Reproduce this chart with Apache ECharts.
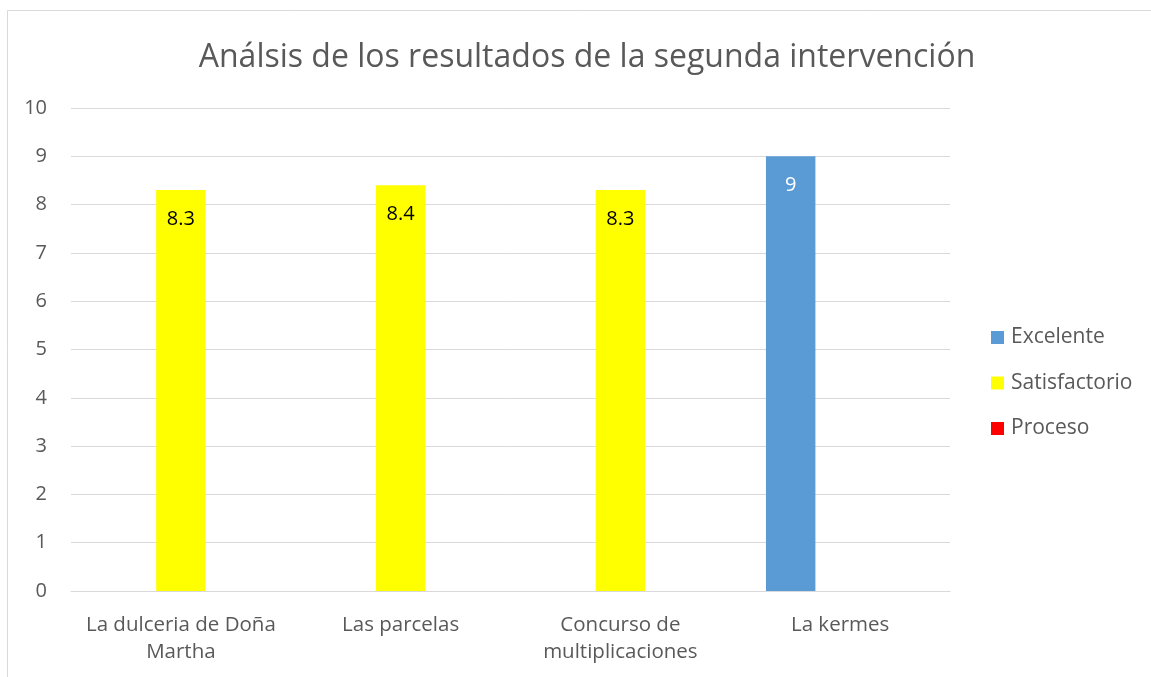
<!DOCTYPE html>
<html>
<head>
<meta charset="utf-8">
<script src="https://cdn.jsdelivr.net/npm/echarts@6/dist/echarts.min.js"></script>
<style>
  html, body { margin: 0; padding: 0; background: #fff; }
  #chart { width: 1151px; height: 677px; }
</style>
</head>
<body>
<div id="chart"></div>
<script>
const categories = ['La dulceria de Doña\nMartha', 'Las parcelas', 'Concurso de\nmultiplicaciones', 'La kermes']
const excelente = [null, null, null, 9]
const satisfactorio = [8.3, 8.4, 8.3, null]
const proceso = [null, null, null, null]
const yTicks = { min: 0, max: 10, interval: 1 }

const font = '"Open Sans", "Liberation Sans", sans-serif'
const grey = '#595959'

const chart = echarts.init(document.getElementById('chart'))

function barSeries(name, data, color, labelColor) {
  return {
    name,
    type: 'bar',
    data,
    barWidth: '22.5%',
    barGap: '0%',
    itemStyle: { color },
    label: {
      show: true,
      position: 'insideTop',
      distance: 19,
      color: labelColor,
      fontFamily: font,
      fontSize: 20
    }
  }
}

chart.setOption({
  animation: false,
  backgroundColor: '#fff',
  graphic: [{
    type: 'rect',
    shape: { x: 7.5, y: 10.5, width: 1160, height: 700 },
    style: { fill: 'none', stroke: '#d9d9d9', lineWidth: 1 },
    silent: true
  }],
  title: {
    text: 'Análsis de los resultados de la segunda intervención',
    left: 582,
    textAlign: 'center',
    top: 37,
    textStyle: { fontFamily: font, fontSize: 32, fontWeight: 'normal', color: grey }
  },
  legend: {
    orient: 'vertical',
    left: 986,
    top: 322,
    itemWidth: 13,
    itemHeight: 13,
    itemGap: 24.5,
    icon: 'rect',
    textStyle: { fontFamily: font, fontSize: 21, color: grey, padding: [0, 0, 0, 2] },
    data: ['Excelente', 'Satisfactorio', 'Proceso']
  },
  grid: { left: 71, right: 201, top: 108, bottom: 86, containLabel: false },
  xAxis: {
    type: 'category',
    data: categories,
    axisLine: { lineStyle: { color: '#d9d9d9', width: 1 } },
    axisTick: { show: false },
    axisLabel: { fontFamily: font, fontSize: 20.5, color: grey, margin: 21, lineHeight: 27, interval: 0 }
  },
  yAxis: {
    type: 'value',
    min: yTicks.min,
    max: yTicks.max,
    interval: yTicks.interval,
    axisLine: { show: false },
    axisTick: { show: false },
    splitLine: { lineStyle: { color: '#d9d9d9', width: 1 } },
    axisLabel: { fontFamily: font, fontSize: 20, color: grey, margin: 24 }
  },
  series: [
    barSeries('Excelente', excelente, '#5b9bd5', '#ffffff'),
    barSeries('Satisfactorio', satisfactorio, '#ffff00', '#000000'),
    barSeries('Proceso', proceso, '#ff0000', '#000000')
  ]
})
</script>
</body>
</html>
